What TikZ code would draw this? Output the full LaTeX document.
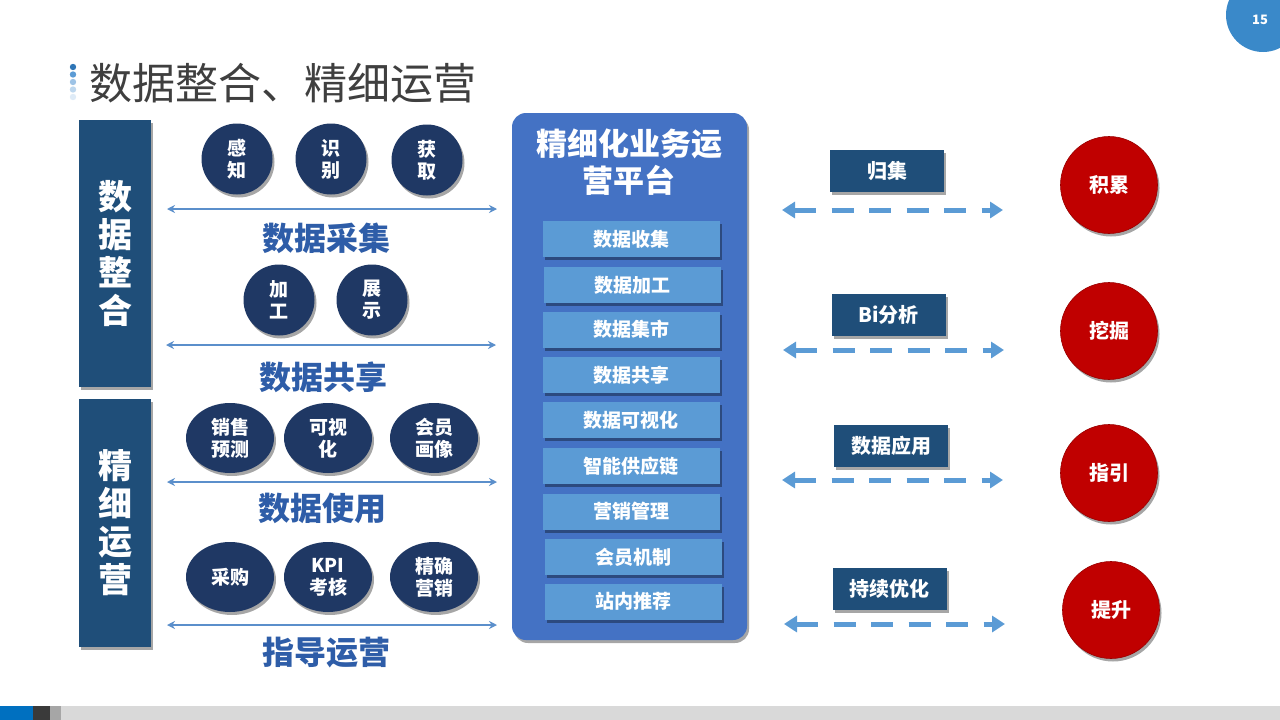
\documentclass[tikz,border=0pt]{standalone}
\usepackage{fontspec}
\setmainfont{Noto Sans CJK SC}
\usetikzlibrary{arrows.meta,shadows,shapes.geometric}
\definecolor{navyA}{HTML}{1F4E79}
\definecolor{navyC}{HTML}{1F3864}
\definecolor{thinblue}{HTML}{5B8FCB}
\definecolor{lblblue}{HTML}{2E5DA8}
\definecolor{panelblue}{HTML}{4472C4}
\definecolor{innerblue}{HTML}{5B9BD5}
\definecolor{dashblue}{HTML}{5B9BD5}
\definecolor{redc}{HTML}{C00000}
\definecolor{titlegray}{HTML}{3F3F3F}
\definecolor{badgeblue}{HTML}{3A89C9}
\definecolor{barlight}{HTML}{D9D9D9}
\definecolor{barblue}{HTML}{0070C0}
\definecolor{bardark}{HTML}{3A3A3A}
\definecolor{bargray}{HTML}{A6A6A6}
\definecolor{dotA}{HTML}{2E75B6}
\definecolor{dotB}{HTML}{5B9BD5}
\definecolor{dotC}{HTML}{9DC3E6}
\definecolor{dotD}{HTML}{BDD7EE}
\definecolor{dotE}{HTML}{DEEBF7}
\begin{document}
\begin{tikzpicture}[x=1pt,y=-1pt,
  shad/.style={drop shadow={shadow xshift=2pt,shadow yshift=-3pt,opacity=0.35,fill=black}},
  sidebox/.style={shad,fill=navyA,minimum width=72pt,text=white,align=center,inner sep=0pt,
    font=\fontsize{34}{38}\selectfont\bfseries},
  navycirc/.style={shad,circle,fill=navyC,minimum size=71pt,inner sep=0pt,text=white,align=center,
    font=\fontsize{19}{22}\selectfont\bfseries},
  navyell/.style={shad,ellipse,fill=navyC,minimum width=88pt,minimum height=70pt,inner sep=0pt,text=white,align=center,
    font=\fontsize{19}{22}\selectfont\bfseries},
  thinarrow/.style={thinblue,line width=1.6pt,{Stealth[length=8pt,width=8pt]}-{Stealth[length=8pt,width=8pt]}},
  biglabel/.style={text=lblblue,font=\fontsize{32}{36}\selectfont\bfseries},
  panel/.style={shad,fill=panelblue,rounded corners=14pt,minimum width=235pt,minimum height=527pt},
  innerbox/.style={shad,fill=innerblue,minimum width=177pt,minimum height=36pt,inner sep=0pt,text=white,
    font=\fontsize{19}{22}\selectfont\bfseries},
  rlab/.style={shad,fill=navyA,minimum width=114pt,minimum height=42pt,inner sep=0pt,text=white,
    font=\fontsize{20}{24}\selectfont\bfseries},
  dasharrow/.style={dashblue,line width=5pt,dash pattern=on 22pt off 15.5pt,
    {Triangle[length=13pt,width=16pt]}-{Triangle[length=13pt,width=16pt]}},
  redcirc/.style={shad,circle,fill=redc,draw=red!60!black,line width=0.6pt,minimum size=97pt,inner sep=0pt,text=white,
    font=\fontsize{20}{24}\selectfont\bfseries}
]
\useasboundingbox (0,0) rectangle (1280,720);
\fill[white] (0,0) rectangle (1280,720);

% badge
\fill[badgeblue] (1263,15) circle (37);
\node[text=white,font=\fontsize{13}{15}\selectfont\bfseries] (pg) at (1260,20) {15};

% bottom bar
\fill[barlight] (61,706) rectangle (1280,720);
\fill[barblue] (0,706) rectangle (33,720);
\fill[bardark] (33,706) rectangle (50,720);
\fill[bargray] (50,706) rectangle (61,720);

% title
\fill[dotA] (73,67) circle (3.2);
\fill[dotB] (73,74.5) circle (3.2);
\fill[dotC] (73,82) circle (3.2);
\fill[dotD] (73,89.5) circle (3.2);
\fill[dotE] (73,97) circle (3.2);
\node[anchor=west,inner sep=0pt,text=titlegray,font=\fontsize{43}{47}\selectfont] (title) at (89,83) {数据整合、精细运营};

% left side boxes
\node[sidebox,minimum height=267pt] (sb1) at (115,253.5) {数\\据\\整\\合};
\node[sidebox,minimum height=248pt] (sb2) at (115,522.5) {精\\细\\运\\营};

% circles
\node[navycirc] (c11) at (237,159) {感\\知};
\node[navycirc] (c12) at (331,159) {识\\别};
\node[navycirc] (c13) at (427,160) {获\\取};
\node[navycirc] (c21) at (279,300) {加\\工};
\node[navycirc] (c22) at (372,300) {展\\示};
\node[navyell] (c31) at (230,438) {销售\\预测};
\node[navyell] (c32) at (328,438) {可视\\化};
\node[navyell] (c33) at (434,438) {会员\\画像};
\node[navyell] (c41) at (230,577) {采购};
\node[navyell] (c42) at (328,577) {KPI\\考核};
\node[navyell] (c43) at (434,577) {精确\\营销};

% thin arrows
\coordinate (a1l) at (167,209); \coordinate (a1r) at (497,209);
\coordinate (a2l) at (166,345); \coordinate (a2r) at (496,345);
\coordinate (a3l) at (167,482); \coordinate (a3r) at (497,482);
\coordinate (a4l) at (167,625); \coordinate (a4r) at (497,625);
\draw[thinarrow] (a1l) -- (a1r);
\draw[thinarrow] (a2l) -- (a2r);
\draw[thinarrow] (a3l) -- (a3r);
\draw[thinarrow] (a4l) -- (a4r);

\node[biglabel] (l1) at (326,238) {数据采集};
\node[biglabel] (l2) at (323,377) {数据共享};
\node[biglabel] (l3) at (322,508) {数据使用};
\node[biglabel] (l4) at (326,653) {指导运营};

% middle panel
\node[panel] (pf) at (629.5,376.5) {};
\node[align=center,text=white,font=\fontsize{31}{37}\selectfont\bfseries] (ptitle) at (629,162.5) {精细化业务运\\营平台};
\node[innerbox] (b1) at (631.5,239) {数据收集};
\node[innerbox] (b2) at (632.5,285) {数据加工};
\node[innerbox] (b3) at (631,329.5) {数据集市};
\node[innerbox] (b4) at (631,375) {数据共享};
\node[innerbox] (b5) at (631,420) {数据可视化};
\node[innerbox] (b6) at (631,466) {智能供应链};
\node[innerbox] (b7) at (631,511.5) {营销管理};
\node[innerbox] (b8) at (633,557) {会员机制};
\node[innerbox] (b9) at (633,601.5) {站内推荐};

% right labels
\node[rlab] (r1) at (887,171) {归集};
\node[rlab] (r2) at (888.5,315) {Bi分析};
\node[rlab] (r3) at (891,445.5) {数据应用};
\node[rlab] (r4) at (889.5,589) {持续优化};

% dashed arrows
\coordinate (d1l) at (782,210); \coordinate (d1r) at (1003,210);
\coordinate (d2l) at (783,350); \coordinate (d2r) at (1004,350);
\coordinate (d3l) at (782,480); \coordinate (d3r) at (1003,480);
\coordinate (d4l) at (784,624); \coordinate (d4r) at (1005,624);
\draw[dasharrow] (d1l) -- (d1r);
\draw[dasharrow] (d2l) -- (d2r);
\draw[dasharrow] (d3l) -- (d3r);
\draw[dasharrow] (d4l) -- (d4r);

% red circles
\node[redcirc] (k1) at (1109,185) {积累};
\node[redcirc] (k2) at (1109,331) {挖掘};
\node[redcirc] (k3) at (1109,473) {指引};
\node[redcirc] (k4) at (1111,610) {提升};
\end{tikzpicture}
\end{document}
